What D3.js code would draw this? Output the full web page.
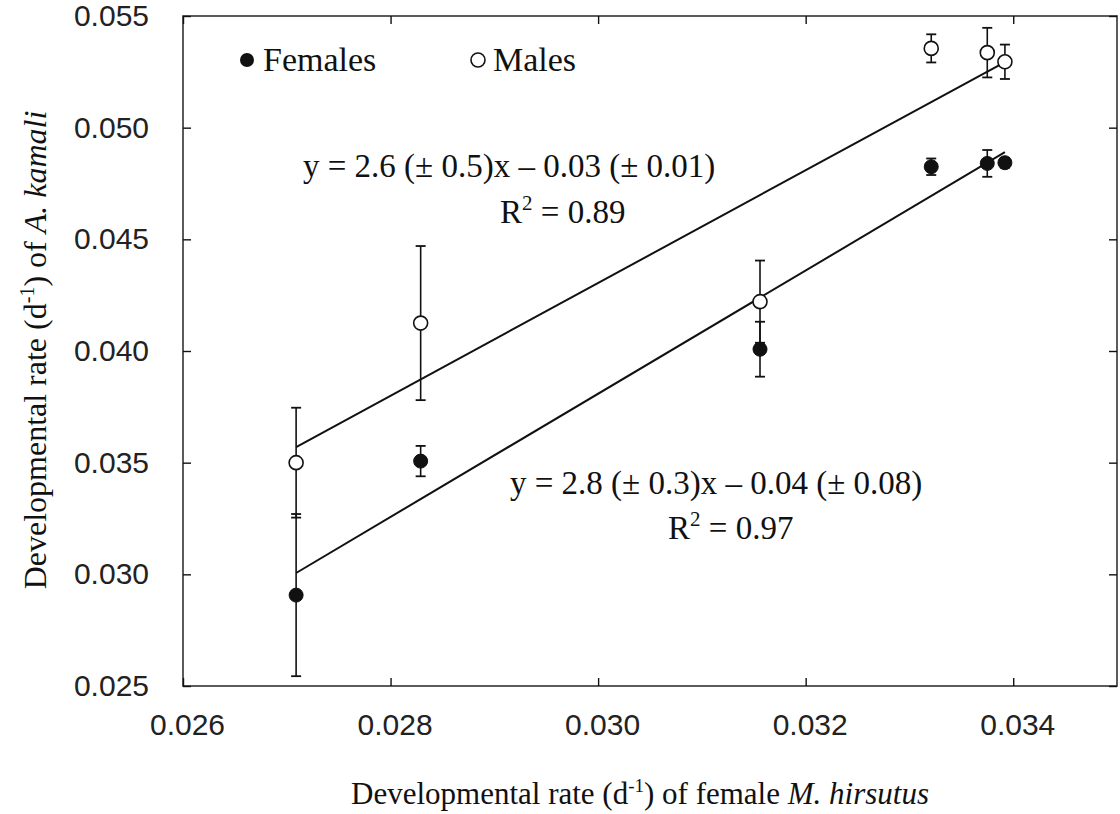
<!DOCTYPE html>
<html>
<head>
<meta charset="utf-8">
<script src="https://cdn.jsdelivr.net/npm/d3@7"></script>
<style>
  html, body { margin: 0; padding: 0; background: #fff; }
  svg { display: block; }
  text.serif, text.serif tspan { font-family: "Liberation Serif", "Times New Roman", serif; fill: #111; }
</style>
</head>
<body>
<svg id="chart" width="1120" height="814"></svg>
<script>
// ---- data ----
const xTicks = [0.026, 0.028, 0.030, 0.032, 0.034];
const xTickLabels = ["0.026", "0.028", "0.030", "0.032", "0.034"];
const yTicks = [0.025, 0.030, 0.035, 0.040, 0.045, 0.050, 0.055];
const yTickLabels = ["0.025", "0.030", "0.035", "0.040", "0.045", "0.050", "0.055"];

// developmental rate of female M. hirsutus (host), x values
const hostRate   = [0.02709, 0.02829, 0.03156, 0.03321, 0.03375, 0.03392];
// A. kamali females
const femaleRate = [0.02907, 0.03507, 0.04008, 0.04825, 0.04840, 0.04843];
const femaleSE   = [0.00363, 0.00068, 0.00123, 0.00037, 0.00060, 0.00022];
// A. kamali males
const maleRate   = [0.03500, 0.04125, 0.04221, 0.05355, 0.05336, 0.05295];
const maleSE     = [0.00246, 0.00345, 0.00184, 0.00063, 0.00111, 0.00077];

// fitted regression lines: [x, y] end points
const maleFitX   = [0.02709, 0.03392];
const maleFitY   = [0.03570, 0.05294];
const femaleFitX = [0.02709, 0.03392];
const femaleFitY = [0.03006, 0.04890];

const seriesNames = ["Females", "Males"];

// ---- layout ----
const svg = d3.select("#chart");
const plot = { left: 183, right: 1117, top: 16, bottom: 686 };

const x = d3.scaleLinear().domain([0.026, 0.035]).range([plot.left, plot.right]);
const y = d3.scaleLinear().domain([0.025, 0.055]).range([plot.bottom, plot.top]);

const ink = "#111";

// frame
svg.append("rect")
  .attr("x", plot.left).attr("y", plot.top)
  .attr("width", plot.right - plot.left).attr("height", plot.bottom - plot.top)
  .attr("fill", "none").attr("stroke", "#333").attr("stroke-width", 1.6);

// axes (ticks drawn inside)
const tickLen = 8;
const xAxisB = d3.axisBottom(x).tickValues(xTicks).tickSizeInner(-tickLen).tickSizeOuter(0)
  .tickPadding(tickLen + 20).tickFormat((d, i) => xTickLabels[i]);
const gx = svg.append("g").attr("transform", `translate(0,${plot.bottom})`).call(xAxisB);
const xAxisT = d3.axisTop(x).tickValues(xTicks).tickSizeInner(-tickLen).tickSizeOuter(0).tickFormat("");
const gxt = svg.append("g").attr("transform", `translate(0,${plot.top})`).call(xAxisT);

const yAxisL = d3.axisLeft(y).tickValues(yTicks).tickSizeInner(-tickLen).tickSizeOuter(0)
  .tickPadding(tickLen + 26).tickFormat((d, i) => yTickLabels[i]);
const gy = svg.append("g").attr("transform", `translate(${plot.left},0)`).call(yAxisL);
const yAxisR = d3.axisRight(y).tickValues(yTicks).tickSizeInner(-tickLen).tickSizeOuter(0).tickFormat("");
const gyr = svg.append("g").attr("transform", `translate(${plot.right},0)`).call(yAxisR);

[gx, gxt, gy, gyr].forEach(g => {
  g.select(".domain").remove();
  g.selectAll(".tick line").attr("stroke", ink).attr("stroke-width", 1.4);
  g.selectAll(".tick text")
    .style("font-family", "'Liberation Sans', Arial, sans-serif")
    .style("font-weight", "normal")
    .attr("font-size", 30).attr("fill", "#222");
});
gx.selectAll(".tick text").attr("dy", "0.71em").attr("dx", 4);

// fit lines
const line = d3.line().x(d => x(d[0])).y(d => y(d[1]));
svg.append("path").datum(d3.zip(maleFitX, maleFitY)).attr("d", line)
  .attr("fill", "none").attr("stroke", ink).attr("stroke-width", 2);
svg.append("path").datum(d3.zip(femaleFitX, femaleFitY)).attr("d", line)
  .attr("fill", "none").attr("stroke", ink).attr("stroke-width", 2);

// error bars + points
const capW = 5;
function drawSeries(vals, se, filled) {
  const data = hostRate.map((h, i) => ({ h, v: vals[i], e: se[i] }));
  const g = svg.append("g");
  const eb = g.selectAll("g.eb").data(data).join("g").attr("class", "eb");
  eb.append("line")
    .attr("x1", d => x(d.h)).attr("x2", d => x(d.h))
    .attr("y1", d => y(d.v - d.e)).attr("y2", d => y(d.v + d.e))
    .attr("stroke", ink).attr("stroke-width", 1.6);
  eb.append("line")
    .attr("x1", d => x(d.h) - capW).attr("x2", d => x(d.h) + capW)
    .attr("y1", d => y(d.v + d.e)).attr("y2", d => y(d.v + d.e))
    .attr("stroke", ink).attr("stroke-width", 1.8);
  eb.append("line")
    .attr("x1", d => x(d.h) - capW).attr("x2", d => x(d.h) + capW)
    .attr("y1", d => y(d.v - d.e)).attr("y2", d => y(d.v - d.e))
    .attr("stroke", ink).attr("stroke-width", 1.8);
  g.selectAll("circle").data(data).join("circle")
    .attr("cx", d => x(d.h)).attr("cy", d => y(d.v))
    .attr("r", 7)
    .attr("fill", filled ? ink : "#fff")
    .attr("stroke", ink).attr("stroke-width", filled ? 1 : 1.6);
}
drawSeries(maleRate, maleSE, false);
drawSeries(femaleRate, femaleSE, true);

// legend
const legend = svg.append("g");
legend.append("circle").attr("cx", 247).attr("cy", 60).attr("r", 7).attr("fill", ink);
legend.append("text").attr("class", "serif").attr("x", 263).attr("y", 71).attr("font-size", 34).text(seriesNames[0]);
legend.append("circle").attr("cx", 478).attr("cy", 60).attr("r", 7)
  .attr("fill", "#fff").attr("stroke", ink).attr("stroke-width", 1.6);
legend.append("text").attr("class", "serif").attr("x", 493).attr("y", 71).attr("font-size", 34).text(seriesNames[1]);

// equations
function equation(xx, yy, parts) {
  const t = svg.append("text").attr("class", "serif").attr("x", xx).attr("y", yy).attr("font-size", 33);
  parts.forEach(p => {
    const s = t.append("tspan").text(p.t);
    if (p.sup) s.attr("font-size", 21).attr("dy", -13);
    if (p.down) s.attr("dy", 13);
  });
  return t;
}
equation(303, 177, [{ t: "y = 2.6 (\u00B1 0.5)x \u2013 0.03 (\u00B1 0.01)" }]);
equation(500, 223, [{ t: "R" }, { t: "2", sup: true }, { t: " = 0.89", down: true }]);
equation(510, 494, [{ t: "y = 2.8 (\u00B1 0.3)x \u2013 0.04 (\u00B1 0.08)" }]);
equation(668, 539, [{ t: "R" }, { t: "2", sup: true }, { t: " = 0.97", down: true }]);

// axis titles
const xt = svg.append("text").attr("class", "serif").attr("x", 640).attr("y", 804)
  .attr("text-anchor", "middle").attr("font-size", 31);
xt.append("tspan").text("Developmental rate (d");
xt.append("tspan").text("-1").attr("font-size", 19).attr("dy", -12);
xt.append("tspan").text(") of female ").attr("dy", 12);
xt.append("tspan").text("M. hirsutus").attr("font-style", "italic");

const yt = svg.append("text").attr("class", "serif").attr("transform", "translate(46,350) rotate(-90)")
  .attr("text-anchor", "middle").attr("font-size", 32);
yt.append("tspan").text("Developmental rate (d");
yt.append("tspan").text("-1").attr("font-size", 20).attr("dy", -12);
yt.append("tspan").text(") of ").attr("dy", 12);
yt.append("tspan").text("A. kamali").attr("font-style", "italic");
</script>
</body>
</html>
